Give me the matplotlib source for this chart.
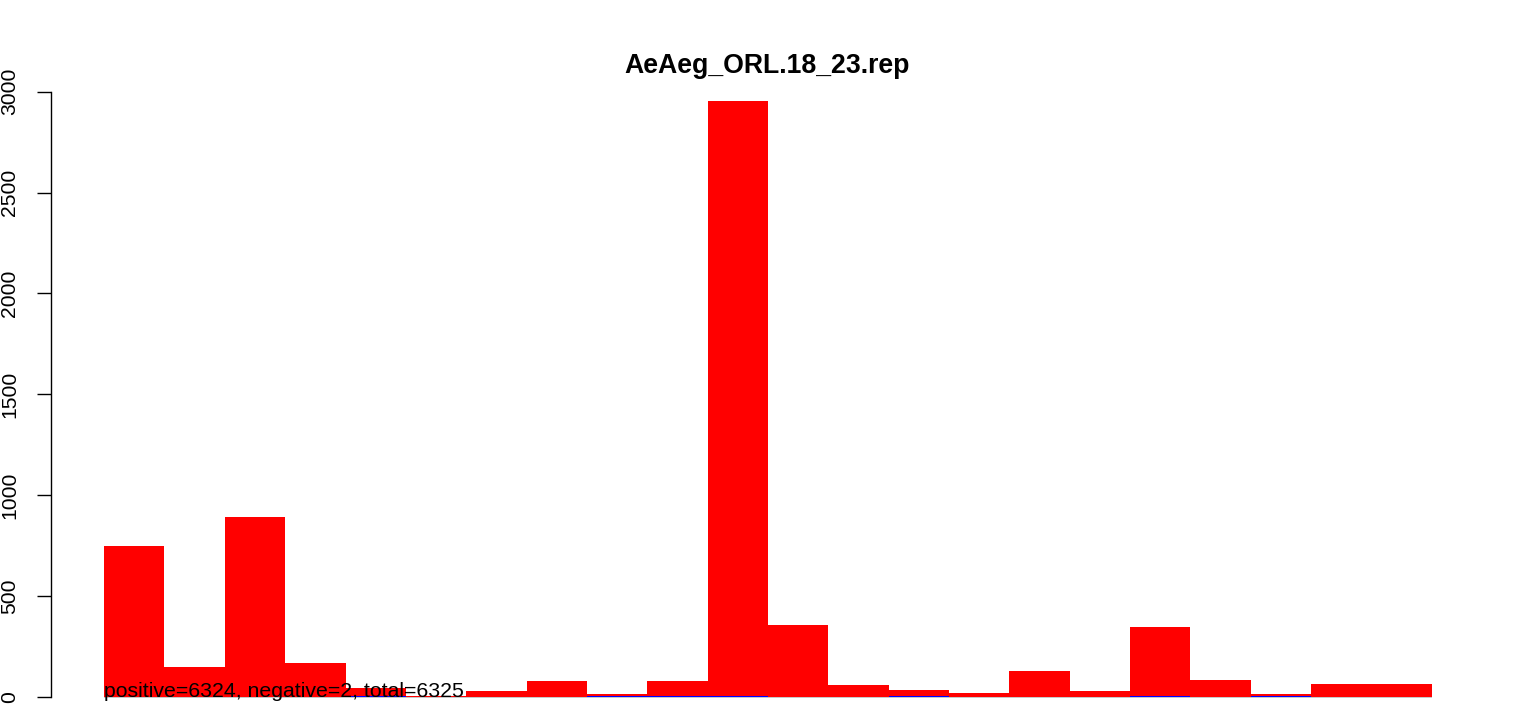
import numpy as np
import matplotlib
matplotlib.use('Agg')
import matplotlib.pyplot as plt

# counts per bin
pos_counts = [746, 147, 890, 167, 43, 4, 30, 78, 15, 78, 2955,
              355, 58, 33, 18, 128, 28, 345, 82, 12, 63, 63]
neg_counts = [0, 0, 0, 0, 5, 0, 0, 0, 5, 5, 5,
              0, 0, 5, 0, 0, 0, 5, 0, 5, 0, 0]
title = 'AeAeg_ORL.18_23.rep'
note = 'positive=6324, negative=2, total=6325'
yticks = [0, 500, 1000, 1500, 2000, 2500, 3000]

plt.rcParams['font.family'] = ['Liberation Sans', 'DejaVu Sans']

W, H = 1533, 708
fig = plt.figure(figsize=(W / 100, H / 100), dpi=100)

# pixel geometry of the R plot region
px_left, px_right = 51, 1485
px_zero, px_top = 696.7, 91.7
k = (px_zero - px_top) / 3000.0
ymin = -(H - px_zero) / k

ax = fig.add_axes([px_left / W, 0, (px_right - px_left) / W, (H - px_top) / H])
n = len(pos_counts)
x = np.arange(n)
ax.set_xlim(-0.04 * n, n * 1.04)
ax.set_ylim(ymin, 3000)

ax.plot([0, n], [0, 0], color='#bebebe', lw=1.2, zorder=1, solid_capstyle='butt')
ax.bar(x, pos_counts, width=1, align='edge', color='#ff0000', linewidth=0, zorder=2)
ax.bar(x, neg_counts, width=1, align='edge', color='#0000ff', linewidth=0, zorder=3)

for s in ['top', 'right', 'bottom']:
    ax.spines[s].set_visible(False)
ax.spines['left'].set_bounds(0, 3000)
ax.spines['left'].set_linewidth(1.0)
ax.set_xticks([])
ax.set_yticks(yticks)
ax.set_yticklabels([str(v) for v in yticks], rotation=90, va='center', fontsize=15.2)
ax.tick_params(axis='y', length=10, width=1.0, pad=13)

ax.text(0, 0, note, fontsize=15.3, ha='left', va='baseline', zorder=4)

fig.text(767.5 / W, 1 - 73.3 / H, title, ha='center', va='baseline',
         fontsize=19.2, fontweight='bold')

fig.savefig('out.png', dpi=100)
